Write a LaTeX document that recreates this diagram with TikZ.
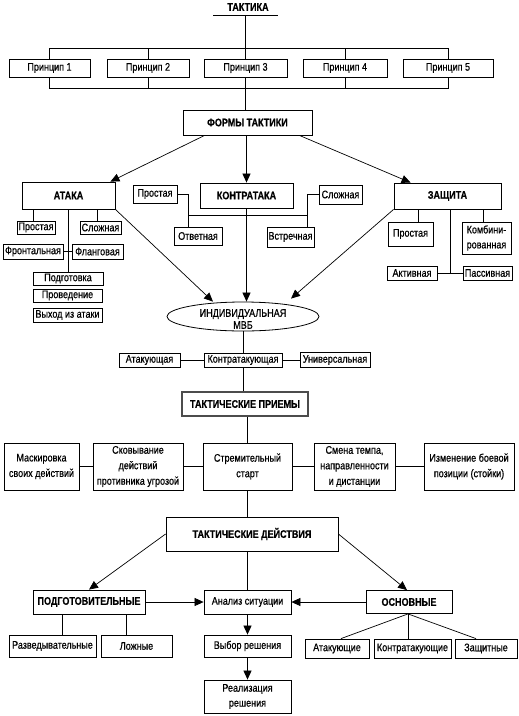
\documentclass[tikz,border=0pt]{standalone}
\usepackage{fontspec}
\setmainfont{Liberation Sans}[FakeStretch=0.82, UprightFeatures={FakeBold=0.6}, BoldFeatures={FakeBold=0.5}]
\usetikzlibrary{shapes.geometric,arrows.meta}
\begin{document}
\begin{tikzpicture}[x=1pt,y=-1pt,
  box/.style={draw, line width=0.8pt, inner sep=0pt, align=center, font=\fontsize{11}{14}\selectfont},
  bbox/.style={box, font=\fontsize{11}{14}\selectfont\bfseries},
  sz/.style 2 args={minimum width=#1pt, minimum height=#2pt},
  ln/.style={line width=0.7pt},
  arr/.style={ln, -{Triangle[length=9pt,width=8pt]}}]
\useasboundingbox (0,0) rectangle (519,716);

% top
\node[font=\fontsize{11}{14}\selectfont\bfseries, inner sep=0pt] (takt) at (248,7) {ТАКТИКА};
\coordinate (tl1) at (213,15);
\coordinate (tl2) at (278,15);
\draw[ln] (tl1) -- (tl2);
\coordinate (busT) at (0,48);
\coordinate (busB) at (0,88);

\node[box, sz={81}{18}] (p1) at (49.5,68) {Принцип 1};
\node[box, sz={82}{18}] (p2) at (148,68) {Принцип 2};
\node[box, sz={83}{18}] (p3) at (245.5,68) {Принцип 3};
\node[box, sz={84}{18}] (p4) at (345,68) {Принцип 4};
\node[box, sz={90}{18}] (p5) at (448,68) {Принцип 5};

\draw[ln] (p3.north |- tl1) -- (p3.north);
\draw[ln] (p1.north) -- (p1.north |- busT) -- (p5.north |- busT) -- (p5.north);
\draw[ln] (p2.north) -- (p2.north |- busT);
\draw[ln] (p4.north) -- (p4.north |- busT);
\draw[ln] (p1.south) -- (p1.south |- busB) -- (p5.south |- busB) -- (p5.south);
\draw[ln] (p2.south) -- (p2.south |- busB);
\draw[ln] (p4.south) -- (p4.south |- busB);

\node[bbox, sz={129}{25}] (forms) at (247.5,122.5) {ФОРМЫ ТАКТИКИ};
\draw[ln] (p3.south) -- (p3.south |- forms.north);

\node[bbox, sz={93}{27}] (ataka) at (68.5,195.5) {АТАКА};
\node[bbox, sz={93}{25}] (kontr) at (246.5,195.5) {КОНТРАТАКА};
\node[bbox, sz={107}{26}] (zash) at (447.5,196) {ЗАЩИТА};

\draw[arr] ([xshift=22pt]forms.south west) -- ([xshift=-5pt]ataka.north east);
\draw[arr] (kontr.north |- forms.south) -- (kontr.north);
\draw[arr] ([xshift=-13pt]forms.south east) -- ([xshift=17pt]zash.north west);

% ellipse
\node[ellipse, draw, line width=0.8pt, inner sep=0pt, minimum width=152pt, minimum height=29pt] (ell) at (243,316.5) {};
\node[align=center, inner sep=0pt, font=\fontsize{11}{12}\selectfont] (elltxt) at (243,319) {ИНДИВИДУАЛЬНАЯ\\МВБ};

% ataka children
\node[box, sz={38}{13}] (pa) at (36,227.5) {Простая};
\node[box, sz={41}{13}] (sa) at (100.5,227.5) {Сложная};
\node[box, sz={60}{15}] (fr) at (33,251.5) {Фронтальная};
\node[box, sz={51}{15}] (fl) at (97.5,251.5) {Фланговая};
\node[box, sz={70}{13}] (pod) at (68,278.5) {Подготовка};
\node[box, sz={69}{13}] (prov) at (67.5,295.5) {Проведение};
\node[box, sz={69}{14}] (vyh) at (67.5,315) {Выход из атаки};
\draw[ln] ([xshift=-3pt]pa.north) -- ([xshift=-3pt]pa.north |- ataka.south);
\draw[ln] ([xshift=-3.5pt]sa.north) -- ([xshift=-3.5pt]sa.north |- ataka.south);
\draw[ln] (pod.north) -- (pod.north |- ataka.south);
\draw[ln] (fr.east) -- (fl.west);
\draw[arr] (ataka.south east) -- ([xshift=-30pt]ell.north);

% kontr children
\node[box, sz={44}{18}] (pk) at (155,194) {Простая};
\node[box, sz={43}{19}] (sk) at (340.5,194.5) {Сложная};
\node[box, sz={48}{18}] (otv) at (198,236) {Ответная};
\node[box, sz={47}{20}] (vs) at (290.5,237) {Встречная};
\coordinate (kbar) at (0,215);
\draw[ln] (pk.east) -| ([xshift=-10pt]otv.north);
\draw[ln] (sk.west) -| ([xshift=16.5pt]vs.north);
\draw[ln] ([xshift=-10pt]otv.north |- kbar) -- ([xshift=16.5pt]vs.north |- kbar);
\draw[arr] (kontr.south) -- (kontr.south |- ell.north);

% zash children
\node[box, sz={45}{24}] (pz) at (410.5,234) {Простая};
\node[box, sz={49}{32}, font=\fontsize{11}{15}\selectfont] (kz) at (486.5,238) {Комбини-\\рованная};
\node[box, sz={50}{14}] (az) at (412,273) {Активная};
\node[box, sz={49}{14}] (psz) at (487.5,273) {Пассивная};
\draw[ln] ([xshift=7.5pt]pz.north) -- ([xshift=7.5pt]pz.north |- zash.south);
\draw[ln] ([xshift=-3.5pt]kz.north) -- ([xshift=-3.5pt]kz.north |- zash.south);
\draw[ln] ([xshift=2.5pt]zash.south) -- ([xshift=2.5pt]zash.south |- az.east);
\draw[ln] (az.east) -- (psz.west);
\draw[arr] (zash.south west) -- ([xshift=48pt,yshift=3pt]ell.north);

% level 2
\node[box, sz={61}{14}] (atk1) at (149.5,360) {Атакующая};
\node[box, sz={78}{14}] (kon1) at (243,360) {Контратакующая};
\node[box, sz={70}{15}] (un) at (335,360) {Универсальная};
\draw[ln] (ell.south) -- (ell.south |- kon1.north);
\draw[ln] (atk1.east) -- (kon1.west);
\draw[ln] (kon1.east) -- (un.west);
\node[bbox, sz={126}{24}, line width=1.5pt, draw=black!70] (tp) at (245,404) {ТАКТИЧЕСКИЕ ПРИЕМЫ};
\draw[ln] (kon1.south) -- (kon1.south |- tp.north);

% techniques
\tikzset{tech/.style={box, sz={#1}{47}, font=\fontsize{11}{15.5}\selectfont}}
\node[tech=75] (t1) at (41.5,466.5) {Маскировка\\своих действий};
\node[tech=90] (t2) at (138,466.5) {Сковывание\\действий\\противника угрозой};
\node[tech=89] (t3) at (247.5,466.5) {Стремительный\\старт};
\node[tech=81] (t4) at (354.5,466.5) {Смена темпа,\\направленности\\и дистанции};
\node[tech=90] (t5) at (469,466.5) {Изменение боевой\\позиции (стойки)};
\draw[ln] (t1.east) -- (t2.west);
\draw[ln] (t2.east) -- (t3.west);
\draw[ln] (t3.east) -- (t4.west);
\draw[ln] (t4.east) -- (t5.west);
\draw[ln] (t3.north |- tp.south) -- (t3.north);

% actions
\node[bbox, sz={172}{34}] (td) at (252,534) {ТАКТИЧЕСКИЕ ДЕЙСТВИЯ};
\draw[ln] (t3.south) -- (t3.south |- td.north);
\node[bbox, sz={112}{24}] (pg) at (89,602) {ПОДГОТОВИТЕЛЬНЫЕ};
\node[box, sz={87}{24}] (an) at (247.5,602) {Анализ ситуации};
\node[bbox, sz={86}{23}] (os) at (409,602) {ОСНОВНЫЕ};
\node[box, sz={87}{22}] (vb) at (247.5,646) {Выбор решения};
\node[box, sz={87}{33}, font=\fontsize{11}{15}\selectfont] (re) at (247.5,696.5) {Реализация\\решения};
\node[box, sz={87}{22}] (rz) at (52.5,646) {Разведывательные};
\node[box, sz={71}{22}] (lz) at (136.5,646) {Ложные};
\node[box, sz={64}{19}] (at2) at (337,648.5) {Атакующие};
\node[box, sz={77}{19}] (ko2) at (412.5,648.5) {Контратакующие};
\node[box, sz={62}{19}] (zs2) at (486,648.5) {Защитные};

\draw[arr] (td.west) -- (pg.north);
\draw[arr] (td.east) -- ([xshift=-2pt]os.north);
\draw[ln] (an.north |- td.south) -- (an.north);
\draw[arr] (pg.east) -- (an.west);
\draw[arr] (os.west) -- (an.east);
\draw[arr] (an.south) -- (vb.north);
\draw[arr] (vb.south) -- (re.north);
\draw[ln] ([xshift=-27pt]pg.south) -- ([xshift=-27pt]pg.south |- rz.north);
\draw[ln] ([xshift=37pt]pg.south) -- ([xshift=37pt]pg.south |- lz.north);
\draw[ln] ([xshift=-1pt]os.south) -- ([xshift=4pt]at2.north);
\draw[ln] ([xshift=-1pt]os.south) -- ([xshift=-4.5pt]ko2.north);
\draw[ln] ([xshift=-1pt]os.south) -- ([xshift=-10pt]zs2.north);
\end{tikzpicture}
\end{document}
